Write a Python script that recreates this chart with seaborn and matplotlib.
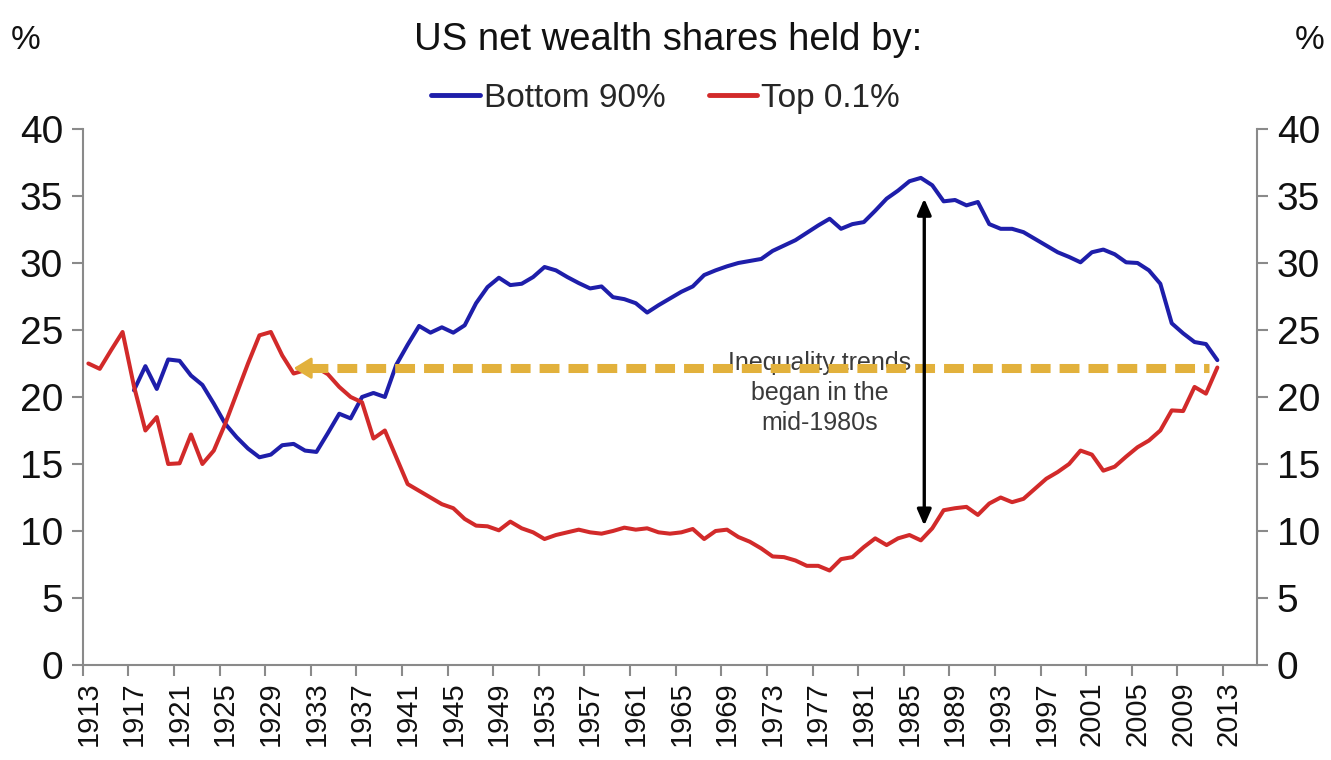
import matplotlib
matplotlib.use("Agg")
import matplotlib.pyplot as plt
import numpy as np
import pandas as pd
import seaborn as sns

# ---------------- data ----------------
years = list(range(1913, 2013))
top01 = [
    22.5, 22.1, 23.5, 24.85, 20.8, 17.5, 18.5, 15.0, 15.05, 17.2,     # 1913-1922
    15.0, 16.0, 18.0, 20.25, 22.5, 24.6, 24.85, 23.1, 21.75, 22.0,     # 1923-1932
    22.2, 21.7, 20.75, 20.0, 19.6, 16.9, 17.5, 15.5, 13.5, 13.0,       # 1933-1942
    12.5, 12.0, 11.7, 10.9, 10.4, 10.35, 10.05, 10.7, 10.2, 9.9,       # 1943-1952
    9.4, 9.7, 9.9, 10.1, 9.9, 9.8, 10.0, 10.25, 10.1, 10.2,            # 1953-1962
    9.9, 9.8, 9.9, 10.15, 9.4, 10.0, 10.1, 9.55, 9.2, 8.7,             # 1963-1972
    8.1, 8.05, 7.8, 7.4, 7.4, 7.05, 7.9, 8.05, 8.8, 9.45,              # 1973-1982
    8.95, 9.45, 9.7, 9.3, 10.2, 11.55, 11.7, 11.8, 11.2, 12.05,        # 1983-1992
    12.5, 12.15, 12.4, 13.15, 13.9, 14.4, 15.0, 16.0, 15.7, 14.5,      # 1993-2002
    14.8, 15.55, 16.25, 16.75, 17.5, 19.0, 18.95, 20.75, 20.25, 22.2,  # 2003-2012
]
bottom90 = [np.nan] * 4 + [
    20.5, 22.3, 20.6, 22.8, 22.7, 21.6, 20.9, 19.5, 18.0, 17.0,        # 1917-1926
    16.15, 15.5, 15.7, 16.4, 16.5, 16.0, 15.9, 17.3, 18.75, 18.4,      # 1927-1936
    20.0, 20.3, 20.0, 22.4, 23.9, 25.3, 24.8, 25.2, 24.8, 25.35,       # 1937-1946
    27.0, 28.2, 28.9, 28.35, 28.45, 28.95, 29.7, 29.45, 28.95, 28.5,   # 1947-1956
    28.1, 28.25, 27.45, 27.3, 27.0, 26.3, 26.85, 27.35, 27.85, 28.25,  # 1957-1966
    29.1, 29.45, 29.75, 30.0, 30.15, 30.3, 30.9, 31.3, 31.7, 32.25,    # 1967-1976
    32.8, 33.3, 32.55, 32.9, 33.05, 33.9, 34.8, 35.4, 36.1, 36.35,     # 1977-1986
    35.8, 34.6, 34.7, 34.3, 34.55, 32.9, 32.55, 32.55, 32.3, 31.8,     # 1987-1996
    31.3, 30.8, 30.45, 30.05, 30.8, 31.0, 30.65, 30.05, 30.0, 29.45,   # 1997-2006
    28.45, 25.5, 24.75, 24.1, 23.95, 22.75,                            # 2007-2012
]
series_names = ["Bottom 90%", "Top 0.1%"]
tick_years = list(range(1913, 2014, 4))
y_ticks = list(range(0, 41, 5))

title = "US net wealth shares held by:"
note = "Inequality trends\nbegan in the\nmid-1980s"

# ---------------- style ----------------
BLUE = "#1E1EAA"
RED = "#D22A2A"
GOLD = "#E2B13C"
AXIS = "#8A8A8A"

sns.set_theme(style="white")
plt.rcParams["font.family"] = ["Liberation Sans", "DejaVu Sans"]

fig = plt.figure(figsize=(13.31, 7.60), dpi=100)
ax = fig.add_axes([0.0621, 0.125, 0.8825, 0.7053])

df = pd.DataFrame({"year": years, series_names[0]: bottom90, series_names[1]: top01})
long = df.melt(id_vars="year", var_name="series", value_name="share").dropna()

sns.lineplot(data=long, x="year", y="share", hue="series", hue_order=series_names,
             palette={series_names[0]: BLUE, series_names[1]: RED},
             linewidth=2.9, ax=ax, legend=True)

# axes limits / ticks
ax.set_xlim(1912.5, 2015.5)
ax.set_ylim(0, 40)
ax.set_xlabel("")
ax.set_ylabel("")
ax.set_xticks(tick_years)
ax.set_xticklabels([str(y) for y in tick_years], rotation=90, fontsize=21, color="#111111")
ax.set_xticks([y - 0.5 for y in tick_years], minor=True)
ax.tick_params(axis="x", which="major", length=0, pad=12)
ax.tick_params(axis="x", which="minor", length=8, width=1.5, color=AXIS, direction="out", bottom=True)
ax.set_yticks(y_ticks)
ax.tick_params(axis="y", which="major", length=8, width=1.5, color=AXIS, direction="out",
               left=True, right=True, labelleft=True, labelright=True, labelsize=28,
               labelcolor="#111111", pad=6)

for side in ["left", "right", "bottom"]:
    ax.spines[side].set_visible(True)
    ax.spines[side].set_color(AXIS)
    ax.spines[side].set_linewidth(1.5)
ax.spines["top"].set_visible(False)
ax.grid(False)

# legend
handles, labels = ax.get_legend_handles_labels()
for h in handles:
    h.set_linewidth(3.5)
ax.legend(handles, labels, loc="center", bbox_to_anchor=(0.5, 0.871),
          bbox_transform=fig.transFigure, ncol=2, frameon=False, fontsize=24,
          handlelength=1.45, handletextpad=0.12, columnspacing=1.3)

# title and unit labels
fig.text(0.502, 0.947, title, ha="center", va="center", fontsize=27.5, color="#111111")
fig.text(0.019, 0.947, "%", ha="center", va="center", fontsize=24, color="#111111")
fig.text(0.984, 0.947, "%", ha="center", va="center", fontsize=24, color="#111111")

# gold dashed arrow pointing left
gold_y = 22.15
gold_x0, gold_x1 = 1932.3, 2011.3
ax.plot([gold_x0, gold_x1], [gold_y, gold_y], color=GOLD, linewidth=6.5,
        dashes=(2.2, 1.0), solid_capstyle="butt", dash_capstyle="butt", zorder=4)
ax.annotate("", xy=(1931.0, gold_y), xytext=(1933.0, gold_y),
            arrowprops=dict(arrowstyle="-|>,head_length=0.9,head_width=0.55",
                            color=GOLD, lw=2, shrinkA=0, shrinkB=0), zorder=5)

# black double-headed arrow
ax.annotate("", xy=(1986.3, 34.8), xytext=(1986.3, 10.4),
            arrowprops=dict(arrowstyle="<|-|>,head_length=0.8,head_width=0.35",
                            color="black", lw=2.4, shrinkA=0, shrinkB=0), zorder=6)

ax.text(1977.1, 20.3, note, ha="center", va="center", fontsize=18,
        color="#3A3A3A", linespacing=1.3, zorder=3)

fig.savefig("out.png", dpi=100)
